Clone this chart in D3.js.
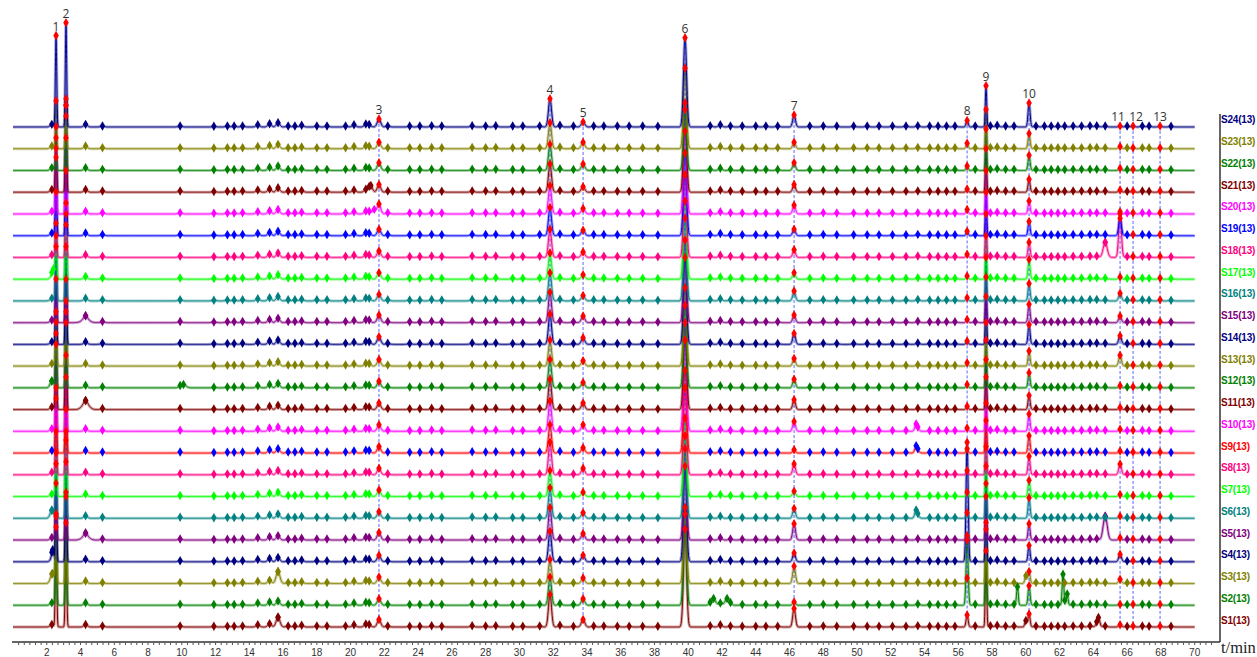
<!DOCTYPE html>
<html>
<head>
<meta charset="utf-8">
<script src="https://cdn.jsdelivr.net/npm/d3@7"></script>
<style>
  body { margin: 0; background: #fff; }
  svg { display: block; }
</style>
</head>
<body>
<div class="chart"></div>
<script>
// Chart area
var svgWidth = 1257;
var svgHeight = 657;

// Sample names, bottom (S1) to top (S24)
var sampleNames = ["S1(13)", "S2(13)", "S3(13)", "S4(13)", "S5(13)", "S6(13)", "S7(13)", "S8(13)",
  "S9(13)", "S10(13)", "S11(13)", "S12(13)", "S13(13)", "S14(13)", "S15(13)", "S16(13)",
  "S17(13)", "S18(13)", "S19(13)", "S20(13)", "S21(13)", "S22(13)", "S23(13)", "S24(13)"];

var traceColors = ["#800000", "#008000", "#808000", "#000080", "#800080", "#008080", "#00ff00", "#ff0080",
  "#ff0000", "#ff00ff", "#800000", "#008000", "#808000", "#000080", "#800080", "#008080",
  "#00ff00", "#ff0080", "#0000ff", "#ff00ff", "#800000", "#008000", "#808000", "#000080"];

var markerColors = ["#800000", "#008000", "#808000", "#000080", "#800080", "#008080", "#00ff00", "#ff0080",
  "#0000ff", "#ff00ff", "#800000", "#008000", "#808000", "#000080", "#800080", "#008080",
  "#00ff00", "#ff0080", "#0000ff", "#ff00ff", "#800000", "#008000", "#808000", "#000080"];

// The 13 common peaks
var peakNumbers = ["1", "2", "3", "4", "5", "6", "7", "8", "9", "10", "11", "12", "13"];
var peakTimes = [2.55, 3.14, 21.68, 31.81, 33.77, 39.81, 46.27, 56.52, 57.64, 60.19, 65.58, 66.35, 67.95];
var peakWidths = [0.04, 0.04, 0.1, 0.09, 0.1, 0.09, 0.08, 0.06, 0.04, 0.06, 0.08, 0.08, 0.08];

// Peak heights (in trace-offset units), one row per sample S1..S24
var peakHeights = [
  [4.6, 4.8, 0.35, 1.5, 0.35, 4.5, 0.85, 0.55, 3.5, 0.6, 0.1, 0.05, 0.05],
  [4.2, 5.0, 0.3, 1.3, 0.3, 4.2, 0.15, 3.0, 3.8, 0.9, 0.05, 0.05, 0.05],
  [3.0, 4.2, 0.3, 1.1, 0.25, 3.5, 0.8, 0.25, 2.5, 0.55, 0.2, 0.05, 0.05],
  [3.6, 4.6, 0.3, 1.4, 0.3, 4.4, 0.4, 5.5, 3.0, 0.75, 0.35, 0.05, 0.05],
  [3.5, 4.6, 0.35, 1.5, 0.3, 4.2, 0.75, 0.2, 2.6, 0.75, 0.1, 0.05, 0.05],
  [3.0, 4.0, 0.3, 1.4, 0.25, 3.8, 0.45, 0.25, 2.4, 0.95, 0.1, 0.05, 0.05],
  [3.0, 4.0, 0.3, 1.2, 0.2, 3.6, 0.25, 0.2, 2.3, 0.75, 0.1, 0.05, 0.05],
  [3.5, 4.5, 0.3, 1.5, 0.3, 4.0, 0.5, 0.2, 2.5, 0.85, 0.5, 0.05, 0.05],
  [3.0, 4.5, 0.3, 1.3, 0.25, 3.8, 0.15, 0.2, 2.3, 0.8, 0.1, 0.05, 0.05],
  [4.0, 5.0, 0.3, 1.4, 0.3, 4.2, 0.45, 0.15, 2.5, 0.8, 0.1, 0.05, 0.05],
  [3.5, 4.5, 0.3, 1.4, 0.3, 4.0, 0.45, 0.15, 2.3, 0.65, 0.1, 0.05, 0.05],
  [3.0, 4.0, 0.3, 1.3, 0.25, 3.8, 0.4, 0.15, 2.2, 0.7, 0.1, 0.05, 0.05],
  [2.5, 4.0, 0.3, 1.2, 0.25, 3.6, 0.35, 0.15, 2.0, 0.7, 0.5, 0.05, 0.05],
  [3.0, 4.5, 0.35, 1.4, 0.3, 4.0, 0.5, 0.15, 2.2, 0.9, 0.4, 0.05, 0.05],
  [3.5, 4.5, 0.35, 1.4, 0.3, 3.8, 0.35, 0.15, 2.1, 0.85, 0.3, 0.05, 0.05],
  [3.0, 4.0, 0.3, 1.3, 0.25, 3.8, 0.45, 0.15, 2.0, 0.8, 0.35, 0.05, 0.05],
  [2.5, 3.5, 0.3, 1.2, 0.2, 3.6, 0.3, 0.15, 2.0, 0.9, 0.1, 0.05, 0.05],
  [3.0, 4.0, 0.3, 1.3, 0.25, 3.8, 0.35, 0.15, 2.0, 0.7, 2.0, 0.05, 0.05],
  [4.0, 4.5, 0.3, 1.3, 0.25, 3.8, 0.3, 0.2, 2.0, 0.65, 0.8, 0.05, 0.05],
  [3.5, 5.0, 0.45, 1.3, 0.25, 3.8, 0.4, 0.2, 2.0, 0.6, 0.1, 0.05, 0.05],
  [3.0, 4.0, 0.35, 1.3, 0.25, 3.8, 0.35, 0.15, 2.0, 0.6, 0.1, 0.05, 0.05],
  [0.6, 2.5, 0.35, 1.2, 0.3, 3.1, 0.35, 0.2, 1.9, 0.7, 0.1, 0.05, 0.05],
  [2.2, 2.3, 0.3, 1.2, 0.3, 3.7, 0.3, 0.25, 1.8, 0.7, 0.1, 0.05, 0.05],
  [4.2, 4.8, 0.37, 1.3, 0.23, 4.1, 0.55, 0.3, 1.9, 1.1, 0.05, 0.05, 0.05]
];

// Small peaks found in every trace (time, height)
var minorTimes = [2.3, 4.3, 5.3, 9.9, 11.9, 12.7, 13.1, 13.6, 14.5, 15.2, 15.7, 16.3, 16.7, 17.1, 18.0, 18.6,
  19.7, 20.2, 20.9, 21.1, 22.2, 23.5, 24.1, 24.8, 25.4, 27.2, 28.0, 28.6, 29.6, 30.2, 31.2, 32.4,
  33.2, 34.4, 35.0, 35.8, 36.5, 37.3, 38.2, 41.3, 41.9, 42.5, 43.2, 44.0, 44.6, 45.3, 47.2, 48.0,
  48.8, 49.8, 50.6, 51.3, 52.1, 52.9, 53.6, 54.3, 54.8, 55.3, 55.8, 57.0, 57.9, 58.3, 58.8, 59.3,
  60.6, 61.1, 61.5, 61.9, 62.3, 62.8, 63.3, 63.8, 64.2, 64.7, 66.0, 66.9, 67.3, 68.6];
var minorHeights = [0.12, 0.12, 0.05, 0.05, 0.03, 0.04, 0.04, 0.05, 0.1, 0.15, 0.2, 0.05, 0.05, 0.08, 0.05, 0.05,
  0.05, 0.1, 0.12, 0.1, 0.05, 0.04, 0.04, 0.06, 0.04, 0.06, 0.05, 0.06, 0.04, 0.04, 0.05, 0.08,
  0.04, 0.05, 0.05, 0.04, 0.04, 0.04, 0.03, 0.06, 0.1, 0.05, 0.04, 0.04, 0.04, 0.04, 0.04, 0.05,
  0.04, 0.04, 0.04, 0.04, 0.04, 0.04, 0.06, 0.04, 0.04, 0.04, 0.04, 0.05, 0.06, 0.08, 0.05, 0.05,
  0.05, 0.04, 0.04, 0.04, 0.04, 0.05, 0.05, 0.06, 0.06, 0.05, 0.04, 0.05, 0.04, 0.03];
var minorWidth = 0.1;

// Peaks belonging to a single sample: [sample index, time, height, width]
var extraPeaks = [
  [0, 15.7, 0.25, 0.12], [0, 64.3, 0.4, 0.08], [0, 60.0, 0.3, 0.06],
  [1, 41.5, 0.3, 0.12], [1, 42.3, 0.3, 0.12], [1, 59.5, 0.85, 0.05], [1, 62.2, 1.4, 0.05], [1, 62.45, 0.5, 0.05],
  [2, 15.7, 0.35, 0.12], [2, 2.35, 0.35, 0.12], [2, 60.0, 0.35, 0.06],
  [3, 2.35, 0.45, 0.06],
  [4, 4.3, 0.2, 0.2], [4, 64.7, 1.05, 0.12],
  [5, 53.5, 0.35, 0.08], [5, 2.3, 0.25, 0.1],
  [8, 53.5, 0.3, 0.08], [9, 53.5, 0.3, 0.08],
  [10, 4.3, 0.3, 0.2], [11, 10.1, 0.15, 0.15], [11, 2.3, 0.2, 0.1],
  [14, 4.3, 0.2, 0.2], [16, 2.4, 0.4, 0.08],
  [17, 64.7, 0.65, 0.12], [20, 21.2, 0.25, 0.1], [19, 21.4, 0.2, 0.1]
];

var xTickLabels = [2, 4, 6, 8, 10, 12, 14, 16, 18, 20, 22, 24, 26, 28, 30, 32, 34, 36, 38, 40,
  42, 44, 46, 48, 50, 52, 54, 56, 58, 60, 62, 64, 66, 68, 70];

// Scales
var xScale = d3.scaleLinear().domain([0, 71.5]).range([13, 1220]);
var yScale = d3.scaleLinear().domain([0, 1]).range([627, 627 - 21.74]);

var svg = d3.select(".chart")
  .append("svg")
  .attr("width", svgWidth)
  .attr("height", svgHeight);

// collect the peaks of one sample
function samplePeaks(i) {
  var list = [];
  peakTimes.forEach(function(t, k) {
    list.push({ t: t, h: peakHeights[i][k], w: peakWidths[k], main: k });
  });
  minorTimes.forEach(function(t, k) {
    list.push({ t: t, h: minorHeights[k], w: minorWidth, main: -1 });
  });
  extraPeaks.forEach(function(e) {
    if (e[0] === i) list.push({ t: e[1], h: e[2], w: e[3], main: -1 });
  });
  return list;
}

function signal(peaks, t) {
  var s = 0;
  peaks.forEach(function(p) {
    var d = (t - p.t) / p.w;
    if (Math.abs(d) < 6) s += p.h * Math.exp(-0.5 * d * d);
  });
  return s;
}

var traceGroup = svg.append("g");
var markerGroup = svg.append("g");
var redGroup = svg.append("g");

var line = d3.line()
  .x(function(d) { return xScale(d[0]); })
  .y(function(d) { return yScale(d[1]); });

var diamond = d3.symbol().type(d3.symbolDiamond).size(26);

var allPeaks = sampleNames.map(function(name, i) { return samplePeaks(i); });

sampleNames.forEach(function(name, i) {
  var peaks = allPeaks[i];
  var ts = d3.range(0, 70.0001, 0.02);
  peaks.forEach(function(p) {
    if (p.w < 0.095) {
      [-0.06, -0.04, -0.025, -0.012, 0, 0.012, 0.025, 0.04, 0.06].forEach(function(o) { ts.push(p.t + o); });
    }
  });
  ts.sort(function(a, b) { return a - b; });
  var pts = ts.map(function(t) { return [t, i + signal(peaks, t)]; });

  traceGroup.append("path")
    .attr("d", line(pts))
    .attr("fill", "none")
    .attr("stroke", traceColors[i])
    .attr("stroke-opacity", 0.35)
    .attr("stroke-width", 3);
  traceGroup.append("path")
    .attr("d", line(pts))
    .attr("fill", "none")
    .attr("stroke", traceColors[i])
    .attr("stroke-width", 1);

  // small peak markers
  peaks.filter(function(p) { return p.main < 0; }).forEach(function(p) {
    markerGroup.append("path")
      .attr("d", diamond)
      .attr("transform", "translate(" + xScale(p.t) + "," + yScale(i + signal(peaks, p.t)) + ")")
      .attr("fill", markerColors[i]);
  });

  // labels on the right
  svg.append("text")
    .attr("x", 1221)
    .attr("y", yScale(i) - 7)
    .attr("dy", "0.35em")
    .attr("fill", traceColors[i])
    .style("font-family", "Arial, 'Liberation Sans', sans-serif")
    .style("font-weight", "bold")
    .style("font-size", "10px")
    .style("letter-spacing", "-0.2px")
    .text(name);
});

// dashed lines through the common peaks, numbers on top
peakTimes.forEach(function(t, k) {
  var topY = yScale(23 + signal(allPeaks[23], t));
  var botY = yScale(0 + signal(allPeaks[0], t));
  markerGroup.append("line")
    .attr("x1", xScale(t)).attr("x2", xScale(t))
    .attr("y1", topY).attr("y2", botY)
    .attr("stroke", "#2233ff")
    .attr("stroke-opacity", 0.75)
    .attr("stroke-dasharray", "3,2")
    .attr("stroke-width", 1);
  // nudge the crowded 11 / 12 apart
  var dx = peakNumbers[k] === "11" ? -2 : (peakNumbers[k] === "12" ? 3 : 0);
  svg.append("text")
    .attr("x", xScale(t) + dx)
    .attr("y", topY - 5)
    .attr("text-anchor", "middle")
    .attr("fill", "#333")
    .style("font-family", "'Open Sans', Arial, sans-serif")
    .style("font-size", "12px")
    .text(peakNumbers[k]);
});

// red markers on the common peaks of each trace
sampleNames.forEach(function(name, i) {
  peakTimes.forEach(function(t) {
    redGroup.append("path")
      .attr("d", diamond)
      .attr("transform", "translate(" + xScale(t) + "," + yScale(i + signal(allPeaks[i], t)) + ")")
      .attr("fill", "#ff0000");
  });
});

// x axis
var xAxis = svg.append("g").attr("transform", "translate(0,642)");
xAxis.append("line")
  .attr("x1", 12).attr("x2", 1220)
  .attr("stroke", "#333").attr("stroke-width", 1.5);
xAxis.selectAll(".minor")
  .data(d3.range(1, 214))
  .enter()
  .append("line")
  .attr("x1", function(d) { return xScale(d / 3); })
  .attr("x2", function(d) { return xScale(d / 3); })
  .attr("y1", 0).attr("y2", 3)
  .attr("stroke", "#555");
xAxis.selectAll(".lab")
  .data(xTickLabels)
  .enter()
  .append("text")
  .attr("x", function(d) { return xScale(d); })
  .attr("y", 14)
  .attr("text-anchor", "middle")
  .attr("fill", "#333")
  .style("font-family", "Arial, 'Liberation Sans', sans-serif")
  .style("font-size", "10px")
  .text(function(d) { return d; });

// right border
svg.append("line")
  .attr("x1", 1220).attr("x2", 1220)
  .attr("y1", 114).attr("y2", 642)
  .attr("stroke", "#333").attr("stroke-width", 1.5);

svg.append("text")
  .attr("x", 1221)
  .attr("y", 653)
  .attr("fill", "#222")
  .style("font-family", "'Liberation Serif', 'Times New Roman', serif")
  .style("font-size", "16.5px")
  .text("t/min");
</script>
</body>
</html>
